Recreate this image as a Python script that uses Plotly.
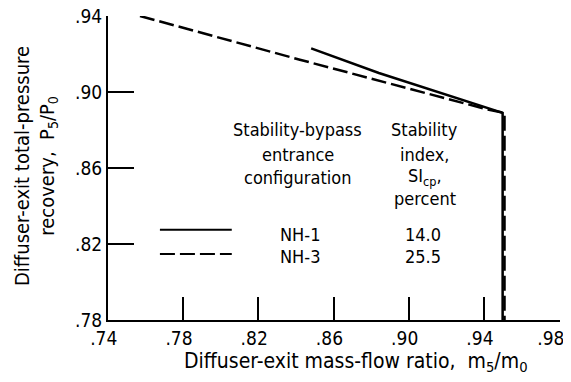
import plotly.graph_objects as go

# ---- data ----
x_ticks = [0.74, 0.78, 0.82, 0.86, 0.90, 0.94, 0.98]
x_tick_labels = [".74", ".78", ".82", ".86", ".90", ".94", ".98"]
y_ticks = [0.78, 0.82, 0.86, 0.90, 0.94]
y_tick_labels = [".78", ".82", ".86", ".90", ".94"]

nh1_mass_flow = [0.848, 0.884, 0.9498, 0.9498]
nh1_recovery = [0.923, 0.910, 0.889, 0.780]

nh3_mass_flow = [0.757, 0.842, 0.941, 0.9508, 0.9508]
nh3_recovery = [0.940, 0.917, 0.891, 0.889, 0.780]

configs = ["NH-1", "NH-3"]
stability_index = ["14.0", "25.5"]

FONT = "Liberation Sans Narrow, DejaVu Sans Condensed, Arial Narrow, sans-serif"

fig = go.Figure()
fig.add_trace(go.Scatter(x=nh1_mass_flow, y=nh1_recovery, mode="lines",
                         line=dict(color="black", width=2.5), showlegend=False))
fig.add_trace(go.Scatter(x=nh3_mass_flow, y=nh3_recovery, mode="lines",
                         line=dict(color="black", width=2.5, dash="15px,5px"),
                         showlegend=False))

# legend sample lines
fig.add_shape(type="line", x0=0.7676, x1=0.8058, y0=0.8275, y1=0.8275,
              line=dict(color="black", width=2))
fig.add_shape(type="line", x0=0.7676, x1=0.8058, y0=0.8148, y1=0.8148,
              line=dict(color="black", width=2, dash="15px,5px"))

ann = []
def txt(x, y, t, xref="x", yref="y", size=18, **kw):
    ann.append(dict(x=x, y=y, xref=xref, yref=yref, text=t, showarrow=False,
                    xanchor=kw.pop("xanchor", "center"), yanchor=kw.pop("yanchor", "middle"),
                    font=dict(family=FONT, size=size, color="black"), **kw))

for yy, t in zip([0.8802, 0.867, 0.8549], ["Stability-bypass", "entrance", "configuration"]):
    txt(0.8409, yy, t)
for yy, t in zip([0.8802, 0.867, 0.8552, 0.8442],
                 ["Stability", "index,", "SI<sub>cp</sub>,", "percent"]):
    txt(0.9083, yy, t)
for yy, c, s in zip([0.8248, 0.8132], configs, stability_index):
    txt(0.842, yy, c)
    txt(0.9072, yy, s)

txt(0.549, -0.09, "Diffuser-exit mass-flow ratio,  m<sub>5</sub>/m<sub>0</sub>",
    xref="paper", yref="paper", size=21, yanchor="top")
txt(-0.190, 0.507, "Diffuser-exit total-pressure", xref="paper", yref="paper",
    size=20, textangle=-90)
txt(-0.133, 0.507, "recovery,  P<sub>5</sub>/P<sub>0</sub>", xref="paper", yref="paper",
    size=20, textangle=-90)

# trailing spaces nudge the x labels slightly left, as in the original
x_tick_text = [t + "\u2002" for t in x_tick_labels[:-1]] + [x_tick_labels[-1] + "\u2003"]

# the page body has an 8px margin, so the figure is sized to fit inside the window
fig.update_layout(
    width=563, height=374,
    margin=dict(l=100, r=11, t=8, b=62, autoexpand=False),
    paper_bgcolor="white", plot_bgcolor="white",
    annotations=ann,
    font=dict(family=FONT, size=20, color="black"),
    xaxis=dict(range=[0.74, 0.9803], tickvals=x_ticks, ticktext=x_tick_text,
               ticks="inside", ticklen=23, tickwidth=2, tickcolor="black",
               showline=True, linewidth=2, linecolor="black", mirror=False,
               showgrid=False, zeroline=False, tickfont=dict(size=19),
               ticklabeloverflow="allow", automargin=False),
    yaxis=dict(range=[0.78, 0.94], tickvals=y_ticks, ticktext=y_tick_labels,
               ticks="inside", ticklen=26, tickwidth=2, tickcolor="black",
               showline=True, linewidth=2, linecolor="black", mirror=False,
               showgrid=False, zeroline=False, tickfont=dict(size=19),
               ticklabeloverflow="allow", automargin=False),
)

fig.write_html("out.html")
